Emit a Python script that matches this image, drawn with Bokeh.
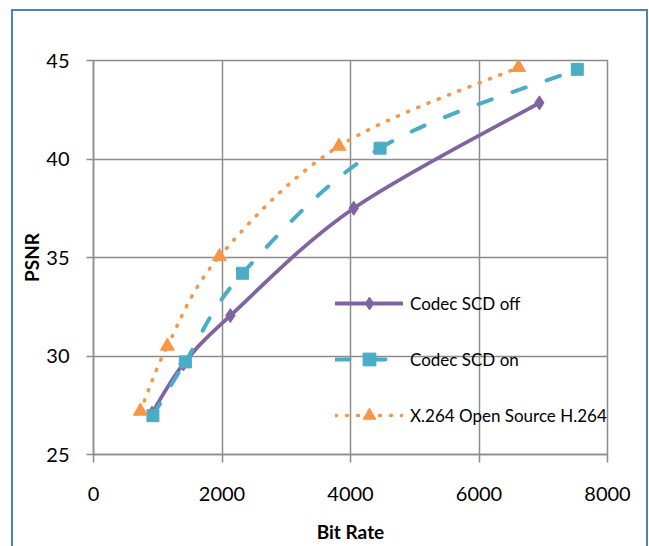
import numpy as np
from bokeh.plotting import figure
from bokeh.models import FixedTicker, Legend, LegendItem, Range1d
from bokeh.embed import file_html
from bokeh.resources import INLINE

# ---- data ----
series_names = ["Codec SCD off", "Codec SCD on", "X.264 Open Source H.264"]
bit_rate_off = [910, 1400, 2130, 4050, 6940]
psnr_off = [27.1, 29.6, 32.05, 37.5, 42.85]
bit_rate_on = [925, 1430, 2320, 4460, 7530]
psnr_on = [26.97, 29.7, 34.2, 40.55, 44.55]
bit_rate_x264 = [730, 1150, 1960, 3820, 6615]
psnr_x264 = [27.2, 30.5, 35.05, 40.65, 44.65]
x_ticks = [0, 2000, 4000, 6000, 8000]
y_ticks = [25, 30, 35, 40, 45]

FONT = "Lato"
GRID = "#8C8C8C"


def smooth_segments(xs, ys):
    """Bezier segments (Excel-style smoothed line) through the data points."""
    x = np.asarray(xs, float)
    y = np.asarray(ys, float)
    n = len(x)
    xp = np.concatenate([[x[0]], x, [x[-1]]])
    yp = np.concatenate([[y[0]], y, [y[-1]]])
    return dict(
        x0=x[:-1], y0=y[:-1], x1=x[1:], y1=y[1:],
        cx0=x[:-1] + (xp[2:n + 1] - xp[0:n - 1]) / 6.0,
        cy0=y[:-1] + (yp[2:n + 1] - yp[0:n - 1]) / 6.0,
        cx1=x[1:] - (xp[3:n + 2] - xp[1:n]) / 6.0,
        cy1=y[1:] - (yp[3:n + 2] - yp[1:n]) / 6.0,
    )


p = figure(
    output_backend="svg", toolbar_location=None,
    frame_width=514, frame_height=394,
    min_border_left=93, min_border_right=42, min_border_top=60, min_border_bottom=92,
    x_range=Range1d(0, 8000), y_range=Range1d(25, 45),
)
p.border_fill_color = None
p.background_fill_color = "white"
p.outline_line_color = GRID
p.outline_line_width = 1.5
p.styles = {
    "background-image": "linear-gradient(#4F81BD,#4F81BD), linear-gradient(#4F81BD,#4F81BD), linear-gradient(#4F81BD,#4F81BD)",
    "background-size": "2px 100%, calc(100% - 12px) 2px, 2px 100%",
    "background-position": "11px 9px, 11px 9px, right 1px top 9px",
    "background-repeat": "no-repeat",
}

for ax in (p.xaxis[0], p.yaxis[0]):
    ax.axis_line_color = GRID
    ax.axis_line_width = 1.5
    ax.major_tick_line_color = GRID
    ax.major_tick_line_width = 1.5
    ax.major_tick_in = 0
    ax.minor_tick_line_color = None
    ax.major_label_text_font = FONT
    ax.major_label_text_font_size = "20px"
    ax.major_label_text_color = "black"
    ax.axis_label_text_font = FONT
    ax.axis_label_text_font_style = "bold"
    ax.axis_label_text_font_size = "19px"
    ax.axis_label_text_color = "black"

p.xaxis.ticker = FixedTicker(ticks=x_ticks)
p.yaxis.ticker = FixedTicker(ticks=y_ticks)
p.xaxis.major_tick_out = 8
p.yaxis.major_tick_out = 7
p.xaxis.major_label_standoff = 24
p.yaxis.major_label_standoff = 17
p.xaxis.axis_label = "Bit Rate"
p.yaxis.axis_label = "PSNR"
p.xaxis.axis_label_standoff = 16
p.yaxis.axis_label_standoff = 0

p.xgrid.ticker = FixedTicker(ticks=x_ticks)
p.ygrid.ticker = FixedTicker(ticks=y_ticks)
p.grid.grid_line_color = GRID
p.grid.grid_line_width = 1.5

purple, teal, orange = "#8064A2", "#4BACC6", "#F79646"

l_off = p.bezier(**smooth_segments(bit_rate_off, psnr_off), line_color=purple, line_width=3.8, line_cap="round")
m_off = p.scatter(bit_rate_off, psnr_off, marker="diamond", size=14, fill_color=purple, line_color=purple)

l_on = p.bezier(**smooth_segments(bit_rate_on, psnr_on), line_color=teal, line_width=4, line_dash="14 22", line_cap="round")
m_on = p.scatter(bit_rate_on, psnr_on, marker="square", size=12, fill_color=teal, line_color=teal)

l_x = p.bezier(**smooth_segments(bit_rate_x264, psnr_x264), line_color=orange, line_width=3.6, line_dash="1 10", line_cap="round")
m_x = p.scatter(bit_rate_x264, psnr_x264, marker="triangle", size=14, fill_color=orange, line_color=orange)

legend = Legend(
    items=[
        LegendItem(label=series_names[0], renderers=[l_off, m_off]),
        LegendItem(label=series_names[1], renderers=[l_on, m_on]),
        LegendItem(label=series_names[2], renderers=[l_x, m_x]),
    ],
    location=(242, 23), orientation="vertical",
    glyph_width=68, glyph_height=32, label_height=20, label_standoff=7, spacing=24,
    padding=0, margin=0,
    label_text_font=FONT, label_text_font_size="17px", label_text_color="black",
    background_fill_alpha=0, border_line_alpha=0,
)
p.add_layout(legend)

open("out.html", "w").write(file_html(p, INLINE))
